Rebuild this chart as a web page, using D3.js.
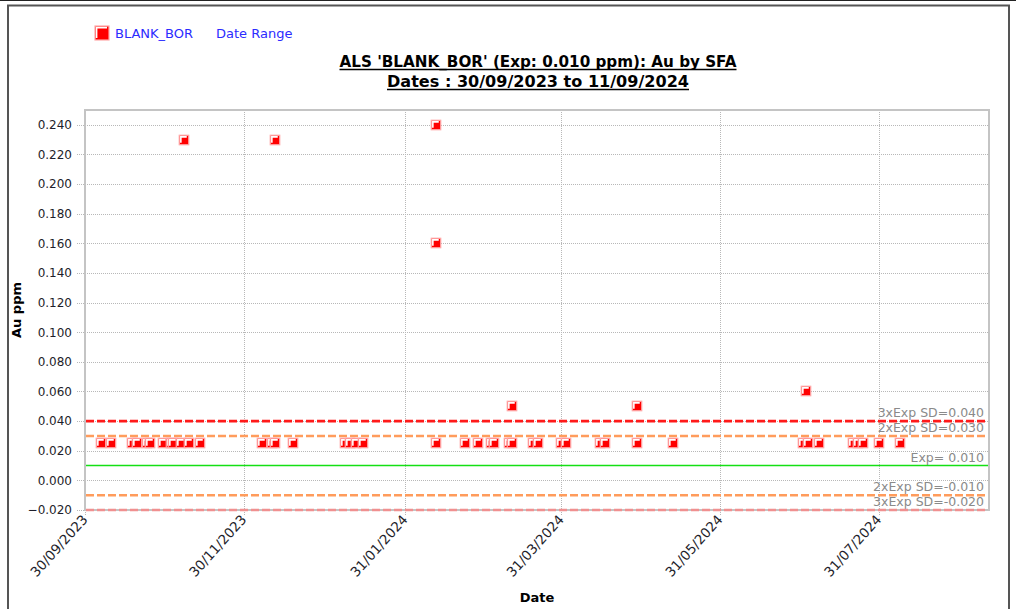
<!DOCTYPE html>
<html lang="en">
<head>
  <meta charset="UTF-8">
  <title>ALS BLANK_BOR</title>
  <style>
    body{ margin: 0; background: #fff; }
    svg{ display: block; font-family: "DejaVu Sans", Verdana, sans-serif; }
  </style>
</head>
<body>
<svg width="1016" height="609"></svg>

<script src="https://cdn.jsdelivr.net/npm/d3@7"></script>
<script>
  // sample dates and Au values (ppm)
  var dates = ['2023-10-06','2023-10-10','2023-10-18','2023-10-20','2023-10-24','2023-10-25','2023-10-30',
    '2023-11-02','2023-11-03','2023-11-06','2023-11-07','2023-11-09','2023-11-13',
    '2023-12-07','2023-12-11','2023-12-12','2023-12-12','2023-12-19',
    '2024-01-08','2024-01-10','2024-01-12','2024-01-15',
    '2024-02-12','2024-02-12','2024-02-12','2024-02-23','2024-02-28',
    '2024-03-04','2024-03-05','2024-03-11','2024-03-12','2024-03-12','2024-03-20','2024-03-22','2024-03-31',
    '2024-04-02','2024-04-15','2024-04-17','2024-04-29','2024-04-29','2024-05-13',
    '2024-07-02','2024-07-03','2024-07-04','2024-07-08','2024-07-21','2024-07-23','2024-07-25','2024-07-31',
    '2024-08-08'];
  var values = [0.025,0.025,0.025,0.025,0.025,0.025,0.025,
    0.025,0.025,0.025,0.230,0.025,0.025,
    0.025,0.025,0.025,0.230,0.025,
    0.025,0.025,0.025,0.025,
    0.025,0.160,0.240,0.025,0.025,
    0.025,0.025,0.025,0.025,0.050,0.025,0.025,0.025,
    0.025,0.025,0.025,0.025,0.050,0.025,
    0.025,0.060,0.025,0.025,0.025,0.025,0.025,0.025,
    0.025];

  // control lines
  var refValues = [0.040, 0.030, 0.010, -0.010, -0.020];
  var refLabels = ['3xExp SD=0.040', '2xExp SD=0.030', 'Exp= 0.010', '2xExp SD=-0.010', '3xExp SD=-0.020'];
  var refColors = ['#ff1a1a', '#ff9c5c', '#14e014', '#ff9c5c', '#f09090'];
  var refDash = ['8,3', '8,3', null, '8,3', '8,3'];

  var xTicks = ['2023-09-30','2023-11-30','2024-01-31','2024-03-31','2024-05-31','2024-07-31'];
  var yTicks = [-0.020, 0.000, 0.020, 0.040, 0.060, 0.080, 0.100, 0.120, 0.140, 0.160, 0.180, 0.200, 0.220, 0.240];
  var dateStart = '2023-09-30', dateEnd = '2024-09-11';

  var parse = d3.timeParse('%Y-%m-%d');
  var svg = d3.select('svg');
  var marge = {top: 110, bottom: 99, left: 85, right: 27};
  var width = +svg.attr('width'), height = +svg.attr('height');

  var x = d3.scaleTime().domain([parse(dateStart), parse(dateEnd)]).range([marge.left, width - marge.right - 1]);
  var y = d3.scaleLinear().domain([-0.02, 0.25]).range([height - marge.bottom, marge.top]);

  // outer frame
  svg.append('line').attr('x1', 0).attr('x2', width).attr('y1', 0.5).attr('y2', 0.5).attr('stroke', '#222');
  svg.append('path').attr('d', 'M8,' + (height + 2) + 'V5.5H1009V' + (height + 2))
    .attr('fill', 'none').attr('stroke', '#555').attr('stroke-width', 2);

  // grid
  var grid = svg.append('g');
  grid.selectAll('.gy').data(yTicks).enter().append('line')
    .attr('x1', marge.left - 8).attr('x2', width - marge.right)
    .attr('y1', function (d) { return Math.round(y(d)) + 0.5; })
    .attr('y2', function (d) { return Math.round(y(d)) + 0.5; })
    .attr('stroke', '#b8b8b8').attr('stroke-dasharray', '1,1');
  grid.selectAll('.gx').data(xTicks).enter().append('line')
    .attr('x1', function (d) { return Math.round(x(parse(d))) + 0.5; })
    .attr('x2', function (d) { return Math.round(x(parse(d))) + 0.5; })
    .attr('y1', marge.top).attr('y2', height - marge.bottom + 6)
    .attr('stroke', '#b8b8b8').attr('stroke-dasharray', '1,1');

  // plot border
  svg.append('rect').attr('x', marge.left).attr('y', marge.top)
    .attr('width', width - marge.left - marge.right).attr('height', height - marge.top - marge.bottom)
    .attr('fill', 'none').attr('stroke', '#c4c4c4').attr('stroke-width', 2);

  // y axis
  var yAxis = svg.append('g').attr('transform', 'translate(' + (marge.left - 9) + ',0)')
    .call(d3.axisLeft(y).tickValues(yTicks).tickFormat(d3.format('.3f')).tickSize(0).tickPadding(4));
  yAxis.select('.domain').remove();
  yAxis.selectAll('text').attr('font-size', 12).attr('fill', '#1e1e2a').attr('font-family', '"DejaVu Sans", sans-serif');

  // x axis
  var xAxis = svg.append('g').attr('transform', 'translate(0,' + (height - marge.bottom) + ')')
    .call(d3.axisBottom(x).tickValues(xTicks.map(parse)).tickFormat(d3.timeFormat('%d/%m/%Y')).tickSize(0).tickPadding(0));
  xAxis.select('.domain').remove();
  xAxis.selectAll('text').attr('font-size', 13.5).attr('fill', '#1e1e2a').attr('font-family', '"DejaVu Sans", sans-serif')
    .attr('text-anchor', 'end').attr('dy', null).attr('y', 0)
    .attr('transform', 'translate(3,10) rotate(-48)');

  // control line labels then lines
  svg.selectAll('.rl').data(refValues).enter().append('text')
    .attr('x', width - marge.right - 5).attr('y', function (d) { return y(d) - 4; })
    .attr('text-anchor', 'end').attr('font-size', 12.5).attr('fill', '#8a8a8a')
    .text(function (d, i) { return refLabels[i]; });
  svg.selectAll('.rline').data(refValues).enter().append('line')
    .attr('x1', marge.left + 1).attr('x2', width - marge.right - 1)
    .attr('y1', function (d) { return y(d); }).attr('y2', function (d) { return y(d); })
    .attr('stroke', function (d, i) { return refColors[i]; })
    .attr('stroke-width', function (d, i) { return refDash[i] ? 2.6 : 1.5; })
    .attr('stroke-dasharray', function (d, i) { return refDash[i]; });

  // markers
  function marker(sel, s) {
    sel.append('rect').attr('x', -s / 2).attr('y', -s / 2).attr('width', s).attr('height', s)
      .attr('fill', '#ff0000').attr('stroke', '#ffa8a8').attr('stroke-width', 1.2);
    sel.append('path').attr('d', 'M' + (-s / 2 + 1.6) + ',' + (s / 2 - 2) + 'V' + (-s / 2 + 1.6) + 'H' + (s / 2 - 2))
      .attr('fill', 'none').attr('stroke', '#fff').attr('stroke-width', 1.6);
  }
  var pts = svg.selectAll('.pt').data(d3.range(dates.length)).enter().append('g')
    .attr('transform', function (i) { return 'translate(' + Math.round(x(parse(dates[i]))) + ',' + Math.round(y(values[i])) + ')'; });
  marker(pts, 9.5);

  // legend
  var lg = svg.append('g').attr('transform', 'translate(102,33)');
  marker(lg, 14);
  svg.append('text').attr('x', 115).attr('y', 38).attr('font-size', 13).attr('fill', '#2b2bff').text('BLANK_BOR');
  svg.append('text').attr('x', 216).attr('y', 38).attr('font-size', 13).attr('fill', '#2b2bff').text('Date Range');

  // title
  var titles = ["ALS 'BLANK_BOR' (Exp: 0.010 ppm): Au by SFA", 'Dates : 30/09/2023 to 11/09/2024'];
  var titleWidths = [397, 302];
  titles.forEach(function (t, i) {
    var ty = 67 + i * 20;
    svg.append('text').attr('x', 538).attr('y', ty).attr('text-anchor', 'middle')
      .attr('font-size', 15).attr('font-weight', 'bold').attr('fill', '#000')
      .attr('textLength', titleWidths[i]).attr('lengthAdjust', 'spacingAndGlyphs').text(t);
    svg.append('line').attr('x1', 538 - titleWidths[i] / 2).attr('x2', 538 + titleWidths[i] / 2)
      .attr('y1', ty + 2.5).attr('y2', ty + 2.5).attr('stroke', '#000').attr('stroke-width', 1.3);
  });

  // axis titles
  svg.append('text').attr('x', 537).attr('y', 602).attr('text-anchor', 'middle')
    .attr('font-size', 13).attr('font-weight', 'bold').text('Date');
  svg.append('text').attr('transform', 'translate(21,310) rotate(-90)').attr('text-anchor', 'middle')
    .attr('font-size', 13).attr('font-weight', 'bold').text('Au ppm');
</script>
</body>
</html>
